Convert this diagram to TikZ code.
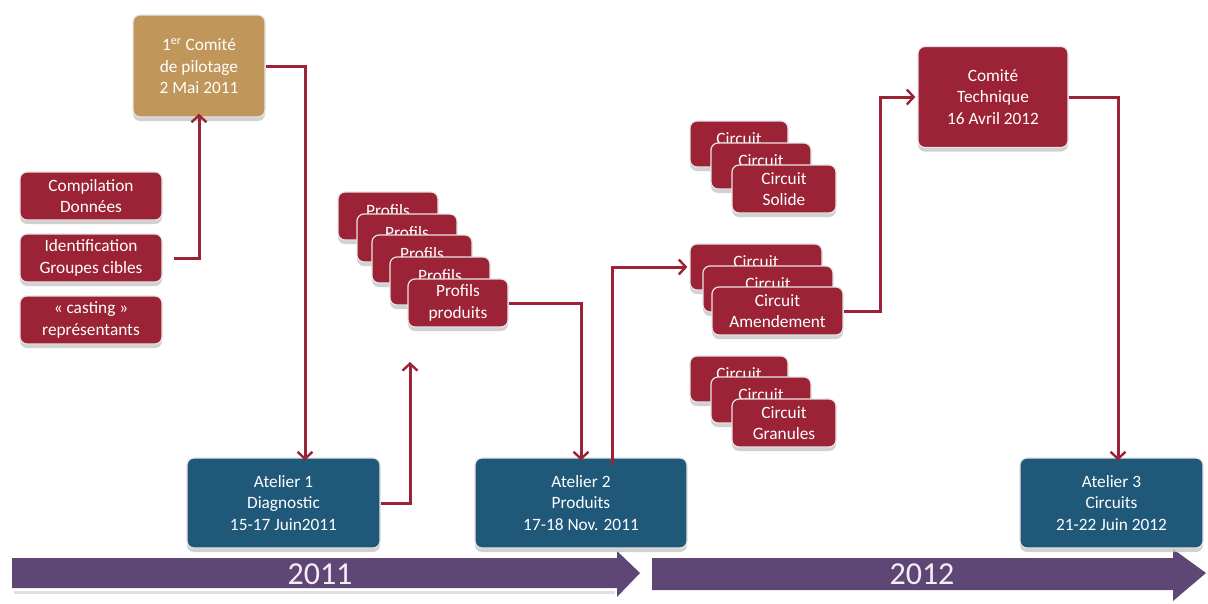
\documentclass[tikz,border=0pt]{standalone}
\usepackage{fontspec}
\setmainfont{Carlito}
\usetikzlibrary{arrows.meta,shadows}
\definecolor{cred}{HTML}{9B2335}
\definecolor{cblue}{HTML}{1F5878}
\definecolor{ctan}{HTML}{C1965A}
\definecolor{cpurple}{HTML}{5E4775}
\definecolor{ctext}{HTML}{F4EEF6}
\newcommand{\lowtxt}[1]{\raisebox{-5pt}[\height][\depth]{#1}}
\tikzset{
  boxbase/.style={rounded corners=7pt, draw=gray!20, line width=1.2pt, text=white, align=center,
    inner sep=0pt, font=\fontsize{17.3}{21.5}\selectfont,
    drop shadow={shadow xshift=0pt, shadow yshift=-4pt, fill=gray!45, opacity=0.8}},
  redbox/.style={boxbase, fill=cred},
  bluebox/.style={boxbase, fill=cblue},
  tanbox/.style={boxbase, fill=ctan},
  conn/.style={draw=cred, line width=3pt},
  arr/.style={conn, -{Straight Barb[length=7pt,width=15pt,line width=2.4pt]}},
  yeartext/.style={text=ctext, font=\fontsize{32}{36}\selectfont},
}
\begin{document}
\begin{tikzpicture}[x=1pt,y=-1pt]
\useasboundingbox (0,0) rectangle (1208,603);
% timeline
\fill[gray!25] (14,591) rectangle (615,594);
\fill[cpurple] (12,558) -- (617,558) -- (617,551) -- (640,573) -- (617,597) -- (617,588) -- (12,588) -- cycle;
\fill[cpurple] (652,558) -- (1173,558) -- (1173,549) -- (1206,573) -- (1173,601) -- (1173,590) -- (652,590) -- cycle;
\node[yeartext] (y2011) at (320,574) {2011};
\node[yeartext] (y2012) at (922,574) {2012};
% comité de pilotage
\node[tanbox, minimum width=132pt, minimum height=102pt] (cp) at (199,66) {1\textsuperscript{er} Comité\\de pilotage\\2 Mai 2011};
% left boxes
\node[redbox, minimum width=142pt, minimum height=48pt] (comp) at (91,196) {Compilation\\Données};
\node[redbox, minimum width=142pt, minimum height=48pt] (ident) at (91,258) {Identification\\Groupes cibles};
\node[redbox, minimum width=142pt, minimum height=48pt] (cast) at (91,320) {« casting »\\représentants};
% ateliers
\node[bluebox, minimum width=193pt, minimum height=90pt] (a1) at (283.5,503) {Atelier 1\\Diagnostic\\15-17 Juin2011};
\node[bluebox, minimum width=212pt, minimum height=90pt] (a2) at (581,503) {Atelier 2\\Produits\\17-18 Nov. 2011};
\node[bluebox, minimum width=183pt, minimum height=90pt] (a3) at (1111.5,503) {Atelier 3\\Circuits\\21-22 Juin 2012};
% comité technique
\node[redbox, minimum width=150pt, minimum height=101pt] (ct) at (993,97) {Comité\\Technique\\16 Avril 2012};
% profils stack
\node[redbox, minimum width=100pt, minimum height=48pt] (pf1) at (388,216) {\lowtxt{Profils}\\\mbox{}};
\node[redbox, minimum width=100pt, minimum height=48pt] (pf2) at (407,238) {\lowtxt{Profils}\\\mbox{}};
\node[redbox, minimum width=100pt, minimum height=48pt] (pf3) at (422,259) {\lowtxt{Profils}\\\mbox{}};
\node[redbox, minimum width=100pt, minimum height=48pt] (pf4) at (440,281) {\lowtxt{Profils}\\\mbox{}};
\node[redbox, minimum width=100pt, minimum height=48pt] (pf5) at (458,303) {Profils\\produits};
% circuits solide
\node[redbox, minimum width=98pt, minimum height=46pt] (cs1) at (739,144) {\lowtxt{Circuit}\\\mbox{}};
\node[redbox, minimum width=100pt, minimum height=46pt] (cs2) at (761,166) {\lowtxt{Circuit}\\\mbox{}};
\node[redbox, minimum width=104pt, minimum height=48pt] (cs3) at (784,189) {Circuit\\Solide};
% circuits amendement
\node[redbox, minimum width=132pt, minimum height=46pt] (ca1) at (756,267) {\lowtxt{Circuit}\\\mbox{}};
\node[redbox, minimum width=130pt, minimum height=46pt] (ca2) at (768,289) {\lowtxt{Circuit}\\\mbox{}};
\node[redbox, minimum width=131pt, minimum height=48pt] (ca3) at (777.5,311) {Circuit\\Amendement};
% circuits granules
\node[redbox, minimum width=98pt, minimum height=46pt] (cg1) at (739,379) {\lowtxt{Circuit}\\\mbox{}};
\node[redbox, minimum width=100pt, minimum height=46pt] (cg2) at (761,400) {\lowtxt{Circuit}\\\mbox{}};
\node[redbox, minimum width=104pt, minimum height=48pt] (cg3) at (784,423) {Circuit\\Granules};
% connectors
\coordinate (p1) at (410,362);
\draw[arr] ([xshift=11pt]ident.east) -| ([yshift=4pt]cp.south);
\draw[arr] (cp.east) -| ([xshift=21.5pt,yshift=-3pt]a1.north);
\draw[arr] (a1.east) -| (p1);
\draw[arr] (pf5.east) -| ([yshift=-3pt]a2.north);
\draw[arr] ([xshift=31pt,yshift=-8pt]a2.north) |- ([xshift=-2pt]ca1.west);
\draw[arr] (ca3.east) -- ++(37,0) |- ([xshift=-2pt]ct.west);
\draw[arr] (ct.east) -| ([xshift=6.5pt,yshift=-3pt]a3.north);
\end{tikzpicture}
\end{document}
